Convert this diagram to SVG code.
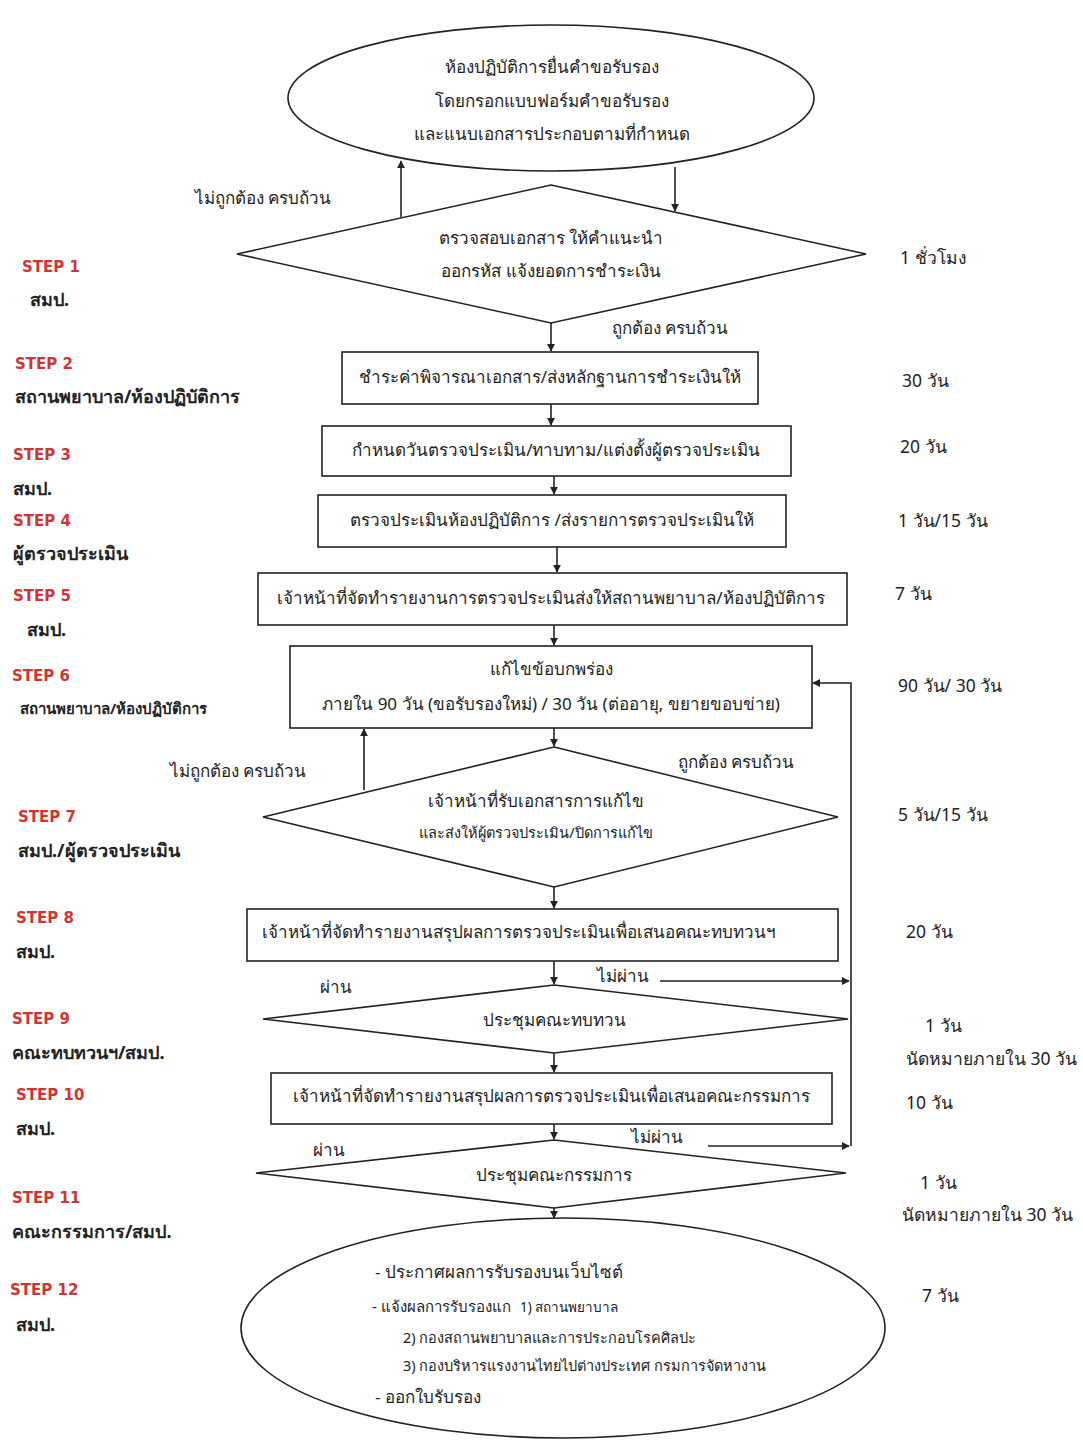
<svg xmlns="http://www.w3.org/2000/svg" width="1083" height="1441" viewBox="0 0 1083 1441">
<defs>
<marker id="ah" viewBox="0 0 10 10" refX="9" refY="5" markerWidth="8" markerHeight="8" markerUnits="userSpaceOnUse" orient="auto">
<path d="M0,0 L10,5 L0,10 z" fill="#222"/>
</marker>
<style>
.sh{fill:#fff;stroke:#222;stroke-width:1.6}
.t{font-family:"Noto Sans","DejaVu Sans","Liberation Sans",sans-serif;font-size:17px;fill:#222}
.c{text-anchor:middle}
.s{font-size:14.5px}
.step{font-family:"DejaVu Sans","Liberation Sans",sans-serif;font-size:15px;fill:#d03535;font-weight:bold}
.who{font-family:"Noto Sans","DejaVu Sans","Liberation Sans",sans-serif;font-size:18px;fill:#222;font-weight:bold}
.tm{font-family:"Noto Sans","DejaVu Sans","Liberation Sans",sans-serif;font-size:17.5px;fill:#222}
.cn{fill:none;stroke:#222;stroke-width:1.6}
</style>
</defs>
<rect width="1083" height="1441" fill="#fff"/>

<g id="connectors">
<line class="cn" x1="401" y1="217" x2="401" y2="161" marker-end="url(#ah)"/>
<line class="cn" x1="675" y1="167" x2="675" y2="211" marker-end="url(#ah)"/>
<line class="cn" x1="551" y1="323" x2="551" y2="351" marker-end="url(#ah)"/>
<line class="cn" x1="551" y1="404" x2="551" y2="425" marker-end="url(#ah)"/>
<line class="cn" x1="554" y1="476" x2="554" y2="494" marker-end="url(#ah)"/>
<line class="cn" x1="557" y1="547" x2="557" y2="572" marker-end="url(#ah)"/>
<line class="cn" x1="554" y1="625" x2="554" y2="645" marker-end="url(#ah)"/>
<line class="cn" x1="554" y1="728" x2="554" y2="746" marker-end="url(#ah)"/>
<line class="cn" x1="364" y1="790" x2="364" y2="729" marker-end="url(#ah)"/>
<line class="cn" x1="554" y1="887" x2="554" y2="908" marker-end="url(#ah)"/>
<line class="cn" x1="554" y1="961" x2="554" y2="984" marker-end="url(#ah)"/>
<line class="cn" x1="554" y1="1053" x2="554" y2="1072" marker-end="url(#ah)"/>
<line class="cn" x1="554" y1="1124" x2="554" y2="1139" marker-end="url(#ah)"/>
<line class="cn" x1="554" y1="1208" x2="554" y2="1218" marker-end="url(#ah)"/>
<line class="cn" x1="660" y1="981" x2="849" y2="981" marker-end="url(#ah)"/>
<line class="cn" x1="708" y1="1146" x2="849" y2="1146" marker-end="url(#ah)"/>
<polyline class="cn" points="851,1146 851,683 813,683" marker-end="url(#ah)"/>
</g>

<g id="n-start">
<ellipse class="sh" cx="551" cy="98" rx="263" ry="73"/>
<text class="t c" x="552" y="73">ห้องปฏิบัติการยื่นคำขอรับรอง</text>
<text class="t c" x="552" y="107">โดยกรอกแบบฟอร์มคำขอรับรอง</text>
<text class="t c" x="552" y="140">และแนบเอกสารประกอบตามที่กำหนด</text>
</g>

<g id="n-check">
<polygon class="sh" points="551,185 866,254 551,323 237,254"/>
<text class="t c" x="551" y="244">ตรวจสอบเอกสาร ให้คำแนะนำ</text>
<text class="t c" x="551" y="277">ออกรหัส  แจ้งยอดการชำระเงิน</text>
</g>
<text class="t" x="195" y="204">ไม่ถูกต้อง ครบถ้วน</text>
<text class="t" x="612" y="334">ถูกต้อง ครบถ้วน</text>

<g id="n-pay">
<rect class="sh" x="342" y="352" width="416" height="52"/>
<text class="t c" x="550" y="383">ชำระค่าพิจารณาเอกสาร/ส่งหลักฐานการชำระเงินให้</text>
</g>
<g id="n-schedule">
<rect class="sh" x="322" y="426" width="469" height="50"/>
<text class="t c" x="556" y="456">กำหนดวันตรวจประเมิน/ทาบทาม/แต่งตั้งผู้ตรวจประเมิน</text>
</g>
<g id="n-assess">
<rect class="sh" x="318" y="495" width="468" height="52"/>
<text class="t c" x="552" y="526">ตรวจประเมินห้องปฏิบัติการ /ส่งรายการตรวจประเมินให้</text>
</g>
<g id="n-report">
<rect class="sh" x="258" y="573" width="589" height="52"/>
<text class="t c" x="551" y="604">เจ้าหน้าที่จัดทำรายงานการตรวจประเมินส่งให้สถานพยาบาล/ห้องปฏิบัติการ</text>
</g>
<g id="n-fix">
<rect class="sh" x="290" y="646" width="522" height="82"/>
<text class="t c" x="551" y="675">แก้ไขข้อบกพร่อง</text>
<text class="t c" x="551" y="710">ภายใน 90 วัน (ขอรับรองใหม่) / 30 วัน (ต่ออายุ, ขยายขอบข่าย)</text>
</g>
<g id="n-receive">
<polygon class="sh" points="554,747 838,817 554,887 263,817"/>
<text class="t c" x="536" y="807">เจ้าหน้าที่รับเอกสารการแก้ไข</text>
<text class="t c s" x="536" y="838">และส่งให้ผู้ตรวจประเมิน/ปิดการแก้ไข</text>
</g>
<text class="t" x="170" y="777">ไม่ถูกต้อง ครบถ้วน</text>
<text class="t" x="678" y="768">ถูกต้อง ครบถ้วน</text>

<g id="n-summary1">
<rect class="sh" x="247" y="909" width="591" height="52"/>
<text class="t" x="262" y="938">เจ้าหน้าที่จัดทำรายงานสรุปผลการตรวจประเมินเพื่อเสนอคณะทบทวนฯ</text>
</g>
<g id="n-review">
<polygon class="sh" points="554,985 848,1019 554,1053 263,1019"/>
<text class="t c" x="554" y="1026">ประชุมคณะทบทวน</text>
</g>
<text class="t" x="320" y="993">ผ่าน</text>
<text class="t" x="597" y="982">ไม่ผ่าน</text>

<g id="n-summary2">
<rect class="sh" x="271" y="1073" width="561" height="51"/>
<text class="t c" x="551" y="1102">เจ้าหน้าที่จัดทำรายงานสรุปผลการตรวจประเมินเพื่อเสนอคณะกรรมการ</text>
</g>
<g id="n-committee">
<polygon class="sh" points="554,1140 846,1173 554,1208 256,1173"/>
<text class="t c" x="554" y="1181">ประชุมคณะกรรมการ</text>
</g>
<text class="t" x="313" y="1156">ผ่าน</text>
<text class="t" x="631" y="1143">ไม่ผ่าน</text>

<g id="n-end">
<ellipse class="sh" cx="563" cy="1328" rx="322" ry="110"/>
<text class="t" x="375" y="1278">- ประกาศผลการรับรองบนเว็บไซต์</text>
<text class="t" x="372" y="1312" style="font-size:15px">- แจ้งผลการรับรองแก</text>
<text class="t s" x="520" y="1312" style="font-size:13.5px">1) สถานพยาบาล</text>
<text class="t s" x="403" y="1343">2) กองสถานพยาบาลและการประกอบโรคศิลปะ</text>
<text class="t s" x="403" y="1371">3) กองบริหารแรงงานไทยไปต่างประเทศ กรมการจัดหางาน</text>
<text class="t" x="375" y="1403">- ออกใบรับรอง</text>
</g>

<g id="steps">
<text class="step" x="22" y="272">STEP 1</text>
<text class="who" x="30" y="306">สมป.</text>
<text class="step" x="15" y="369">STEP 2</text>
<text class="who" x="15" y="403">สถานพยาบาล/ห้องปฏิบัติการ</text>
<text class="step" x="13" y="460">STEP 3</text>
<text class="who" x="13" y="495">สมป.</text>
<text class="step" x="13" y="526">STEP 4</text>
<text class="who" x="13" y="560">ผู้ตรวจประเมิน</text>
<text class="step" x="13" y="601">STEP 5</text>
<text class="who" x="27" y="636">สมป.</text>
<text class="step" x="12" y="681">STEP 6</text>
<text class="who" x="20" y="714" style="font-size:15px">สถานพยาบาล/ห้องปฏิบัติการ</text>
<text class="step" x="18" y="822">STEP 7</text>
<text class="who" x="18" y="857">สมป./ผู้ตรวจประเมิน</text>
<text class="step" x="16" y="923">STEP 8</text>
<text class="who" x="16" y="958">สมป.</text>
<text class="step" x="12" y="1024">STEP 9</text>
<text class="who" x="12" y="1059">คณะทบทวนฯ/สมป.</text>
<text class="step" x="16" y="1100">STEP 10</text>
<text class="who" x="16" y="1135">สมป.</text>
<text class="step" x="12" y="1203">STEP 11</text>
<text class="who" x="12" y="1238">คณะกรรมการ/สมป.</text>
<text class="step" x="10" y="1295">STEP 12</text>
<text class="who" x="16" y="1331">สมป.</text>
</g>

<g id="times">
<text class="tm" x="900" y="264">1 ชั่วโมง</text>
<text class="tm" x="902" y="387">30 วัน</text>
<text class="tm" x="900" y="453">20 วัน</text>
<text class="tm" x="898" y="527">1 วัน/15 วัน</text>
<text class="tm" x="895" y="600">7 วัน</text>
<text class="tm" x="898" y="692">90 วัน/ 30 วัน</text>
<text class="tm" x="898" y="821">5 วัน/15 วัน</text>
<text class="tm" x="906" y="938">20 วัน</text>
<text class="tm" x="925" y="1032">1 วัน</text>
<text class="tm" x="906" y="1065">นัดหมายภายใน 30 วัน</text>
<text class="tm" x="906" y="1109">10 วัน</text>
<text class="tm" x="920" y="1189">1 วัน</text>
<text class="tm" x="902" y="1221">นัดหมายภายใน 30 วัน</text>
<text class="tm" x="922" y="1302">7 วัน</text>
</g>
</svg>
